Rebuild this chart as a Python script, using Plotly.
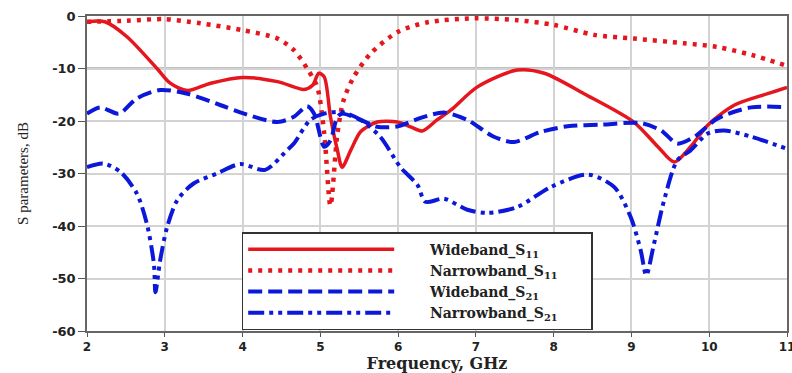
import plotly.graph_objects as go

# ---- data ----
wb_s11_f = [2.0, 2.23, 2.51, 2.9, 3.07, 3.29, 3.59, 4.0, 4.45, 4.79, 4.9, 4.98, 5.05, 5.13, 5.22, 5.28,
            5.39, 5.52, 5.73, 5.99, 6.16, 6.31, 6.5, 6.68, 7.02, 7.53, 7.88, 8.39, 9.03, 9.34, 9.55,
            9.76, 9.98, 10.32, 10.75, 11.0]
wb_s11_db = [-1.1, -1.1, -3.9, -10.0, -12.8, -14.2, -12.8, -11.7, -12.5, -14.0, -13.2, -10.9, -11.6, -19.2,
             -25.6, -28.8, -25.6, -22.0, -20.2, -20.2, -21.1, -21.9, -19.8, -17.9, -13.5, -10.3, -10.9,
             -14.8, -20.2, -24.9, -27.8, -24.9, -20.8, -17.0, -14.8, -13.6]

nb_s11_f = [2.0, 2.51, 2.99, 3.46, 4.0, 4.45, 4.66, 4.83, 4.96, 5.05, 5.13, 5.22, 5.3, 5.43, 5.65, 6.0,
            6.38, 6.98, 7.53, 8.0, 8.52, 9.03, 9.68, 10.1, 10.54, 11.0]
nb_s11_db = [-1.1, -0.9, -0.6, -1.4, -2.7, -4.3, -6.5, -10.0, -13.5, -22.4, -36.1, -22.4, -16.0, -11.6,
             -7.1, -3.0, -1.2, -0.45, -0.8, -1.7, -3.6, -4.3, -5.2, -5.9, -7.4, -9.5]

wb_s21_f = [2.0, 2.17, 2.41, 2.64, 2.94, 3.29, 3.72, 4.02, 4.45, 4.66, 4.83, 4.92, 5.05, 5.13, 5.22, 5.28,
            5.52, 5.73, 6.0, 6.29, 6.59, 6.89, 7.23, 7.49, 7.83, 8.18, 8.61, 9.12, 9.38, 9.59, 9.81,
            10.11, 10.54, 11.0]
wb_s21_db = [-18.6, -17.4, -18.6, -15.7, -14.1, -14.8, -17.0, -18.6, -20.2, -19.2, -17.2, -18.6, -24.9,
             -23.7, -19.2, -18.6, -19.8, -21.1, -21.0, -19.4, -18.4, -19.8, -23.0, -24.0, -22.1, -21.0,
             -20.7, -20.4, -21.8, -24.3, -23.0, -19.5, -17.4, -17.4]

nb_s21_f = [2.0, 2.21, 2.43, 2.64, 2.77, 2.86, 2.88, 2.94, 3.03, 3.16, 3.37, 3.67, 3.97, 4.29, 4.57, 4.66,
            4.87, 5.05, 5.28, 5.52, 5.77, 6.03, 6.25, 6.35, 6.59, 6.89, 7.15, 7.53, 7.96, 8.44, 8.78,
            8.99, 9.12, 9.19, 9.29, 9.42, 9.59, 9.76, 9.98, 10.19, 10.54, 11.0]
nb_s21_db = [-28.8, -28.1, -29.7, -33.8, -39.6, -47.2, -52.6, -46.6, -40.2, -35.1, -31.9, -30.0, -28.2,
             -29.3, -25.6, -24.3, -19.8, -18.6, -18.3, -19.8, -23.0, -28.8, -32.2, -35.4, -34.8, -36.9,
             -37.5, -36.4, -32.6, -30.2, -32.6, -38.3, -44.7, -49.4, -43.4, -35.1, -27.5, -25.6, -22.4,
             -21.8, -23.0, -25.3]

series_names = ["Wideband_S<sub>11</sub>", "Narrowband_S<sub>11</sub>",
                "Wideband_S<sub>21</sub>", "Narrowband_S<sub>21</sub>"]
x_ticks = [2, 3, 4, 5, 6, 7, 8, 9, 10, 11]
y_ticks = [0, -10, -20, -30, -40, -50, -60]
y_tick_text = ["0", "-10", "-20", "-30", "-40", "-50", "-60"]
threshold_db = -10

RED = "#e5161d"
BLUE = "#0b18d9"
PAD_L = "\u2002" * 4 + "\u2009"
PAD_R = "\u2002" * 4


def legend_name(i):
    return PAD_L + series_names[i] + PAD_R


fig = go.Figure()
fig.add_trace(go.Scatter(x=wb_s11_f, y=wb_s11_db, name=legend_name(0), mode="lines",
                         line=dict(color=RED, width=3.5, shape="spline", smoothing=0.8)))
fig.add_trace(go.Scatter(x=nb_s11_f, y=nb_s11_db, name=legend_name(1), mode="lines",
                         line=dict(color=RED, width=4.5, dash="4px,6px", shape="spline", smoothing=0.8)))
fig.add_trace(go.Scatter(x=wb_s21_f, y=wb_s21_db, name=legend_name(2), mode="lines",
                         line=dict(color=BLUE, width=4, dash="14px,6px", shape="spline", smoothing=0.8)))
fig.add_trace(go.Scatter(x=nb_s21_f, y=nb_s21_db, name=legend_name(3), mode="lines",
                         line=dict(color=BLUE, width=4, dash="16px,5px,4px,5px,4px,5px",
                                   shape="spline", smoothing=0.8)))

fig.add_hline(y=threshold_db, line=dict(color="black", width=1.5), layer="below")

fig.update_layout(
    width=792, height=373,
    margin=dict(l=87, r=5, t=16, b=42, autoexpand=False),
    paper_bgcolor="white", plot_bgcolor="white",
    showlegend=True,
    legend=dict(x=0.221, y=0.314, xanchor="left", yanchor="top",
                bgcolor="white", bordercolor="#333", borderwidth=1.5,
                itemwidth=146,
                font=dict(family="DejaVu Serif", size=14, color="#222", weight="bold")),
    xaxis=dict(range=[2, 11], tickvals=x_ticks, ticks="outside", ticklen=4, tickcolor="#555",
               ticklabeloverflow="allow", automargin=False,
               showgrid=True, gridcolor="#d3d3d3", gridwidth=1.5,
               showline=True, linecolor="#666", linewidth=1.5, mirror=True, zeroline=False,
               tickfont=dict(family="DejaVu Sans", size=12, color="#222", weight="bold"),
               title=dict(text="Frequency, GHz", standoff=6,
                          font=dict(family="DejaVu Serif", size=16, color="#222", weight="bold"))),
    yaxis=dict(range=[-60, 0], tickvals=y_ticks, ticktext=y_tick_text, ticks="outside", ticklen=7,
               tickcolor="#555", automargin=False,
               showgrid=True, gridcolor="#d3d3d3", gridwidth=1.5,
               showline=True, linecolor="#666", linewidth=1.5, mirror=True, zeroline=False,
               tickfont=dict(family="DejaVu Sans", size=13, color="#222", weight="bold"),
               title=dict(text="S parameters, dB", standoff=20,
                          font=dict(family="Liberation Serif", size=15, color="#222"))),
)

fig.write_html("out.html")
